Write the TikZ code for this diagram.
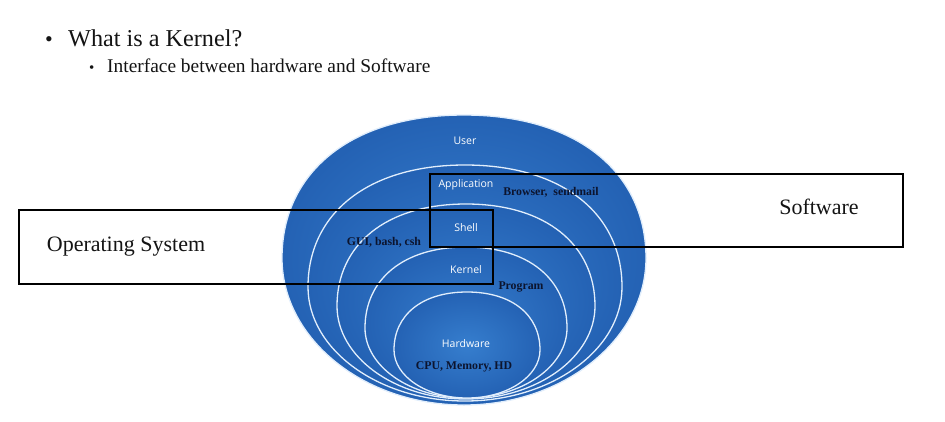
\documentclass[tikz,border=0pt]{standalone}
\usepackage{fontspec}
\setmainfont{Liberation Serif}
\newfontfamily\layerfont{Open Sans}

\definecolor{layermid}{RGB}{54,126,206}
\definecolor{layeredge}{RGB}{36,98,180}
\definecolor{layerrim}{RGB}{225,238,252}
\definecolor{inktext}{RGB}{12,20,46}
\definecolor{headtext}{RGB}{20,20,20}

% One layer of the onion: slightly flat-topped oval given centre x, top, widest row, bottom, half width
\newcommand\drawlayer[5]{%
  \pgfmathsetmacro\lyrCx{#1}\pgfmathsetmacro\lyrTop{#2}%
  \pgfmathsetmacro\lyrMid{#3}\pgfmathsetmacro\lyrBot{#4}\pgfmathsetmacro\lyrRx{#5}%
  \pgfmathsetmacro\lyrXr{\lyrCx+\lyrRx}\pgfmathsetmacro\lyrXl{\lyrCx-\lyrRx}%
  \pgfmathsetmacro\lyrXa{\lyrCx+0.62*\lyrRx}\pgfmathsetmacro\lyrXb{\lyrCx-0.62*\lyrRx}%
  \pgfmathsetmacro\lyrXc{\lyrCx+0.55*\lyrRx}\pgfmathsetmacro\lyrXd{\lyrCx-0.55*\lyrRx}%
  \pgfmathsetmacro\lyrYa{\lyrMid-0.6*(\lyrMid-\lyrTop)}%
  \pgfmathsetmacro\lyrYb{\lyrMid+0.55*(\lyrBot-\lyrMid)}%
  \path[layer] (\lyrCx,\lyrTop)
    .. controls (\lyrXa,\lyrTop) and (\lyrXr,\lyrYa) .. (\lyrXr,\lyrMid)
    .. controls (\lyrXr,\lyrYb) and (\lyrXc,\lyrBot) .. (\lyrCx,\lyrBot)
    .. controls (\lyrXd,\lyrBot) and (\lyrXl,\lyrYb) .. (\lyrXl,\lyrMid)
    .. controls (\lyrXl,\lyrYa) and (\lyrXb,\lyrTop) .. cycle;%
}

\begin{document}
\begin{tikzpicture}[x=1pt,y=-1pt,
  layer/.style={draw=layerrim, line width=1.3pt,
    inner color=layermid, outer color=layeredge},
  layername/.style={text=white, font=\layerfont\fontsize{10.5}{12}\selectfont, inner sep=0pt},
  example/.style={text=inktext, font=\bfseries\fontsize{11.8}{14}\selectfont, inner sep=0pt},
  framebox/.style={draw=black, line width=1.3pt, rectangle, inner sep=0pt},
  boxtitle/.style={text=headtext, font=\fontsize{22}{26}\selectfont, inner sep=0pt},
]
\useasboundingbox[fill=white] (0,0) rectangle (945,421);

% heading and bullet point
\node[anchor=base west, inner sep=0pt, text=headtext, font=\fontsize{22}{26}\selectfont] (b1) at (45,46) {\textbullet};
\node[anchor=base west, inner sep=0pt, text=headtext, font=\fontsize{24.2}{28}\selectfont] (head) at (68,46) {What is a Kernel?};
\node[anchor=base west, inner sep=0pt, text=headtext, font=\fontsize{15}{18}\selectfont] (b2) at (89,72) {\textbullet};
\node[anchor=base west, inner sep=0pt, text=headtext, font=\fontsize{19.4}{22}\selectfont] (sub) at (107,72) {Interface between hardware and Software};

% nested layers, outermost first
\drawlayer{464}{115}{258}{405}{182}% user
\drawlayer{465}{165}{287}{401}{157}% application
\drawlayer{466}{204}{306}{399}{129}% shell
\drawlayer{466}{247}{328}{398}{101}% kernel
\drawlayer{467}{292}{350}{398}{73}%  hardware

% layer names
\node[layername] (tuser) at (465,141) {User};
\node[layername] (tapp) at (466,185) {Application};
\node[layername] (tshell) at (466,228) {Shell};
\node[layername] (tkernel) at (466,270) {Kernel};
\node[layername] (thw) at (466,344) {Hardware};

% examples for each layer
\node[example] (eapp) at (551,192) {Browser,\ \ sendmail};
\node[example] (eshell) at (384,242) {GUI, bash, csh};
\node[example] (eprog) at (521,287) {Program};
\node[example] (ehw) at (464,367) {CPU, Memory, HD};

% grouping frames
\node[framebox, minimum width=473pt, minimum height=73pt] (swbox) at (666.5,210.5) {};
\node[framebox, minimum width=474pt, minimum height=74pt] (osbox) at (256,247) {};
\node[boxtitle] (swlabel) at (819,207) {Software};
\node[boxtitle] (oslabel) at (126,247) {Operating System};
\end{tikzpicture}
\end{document}
